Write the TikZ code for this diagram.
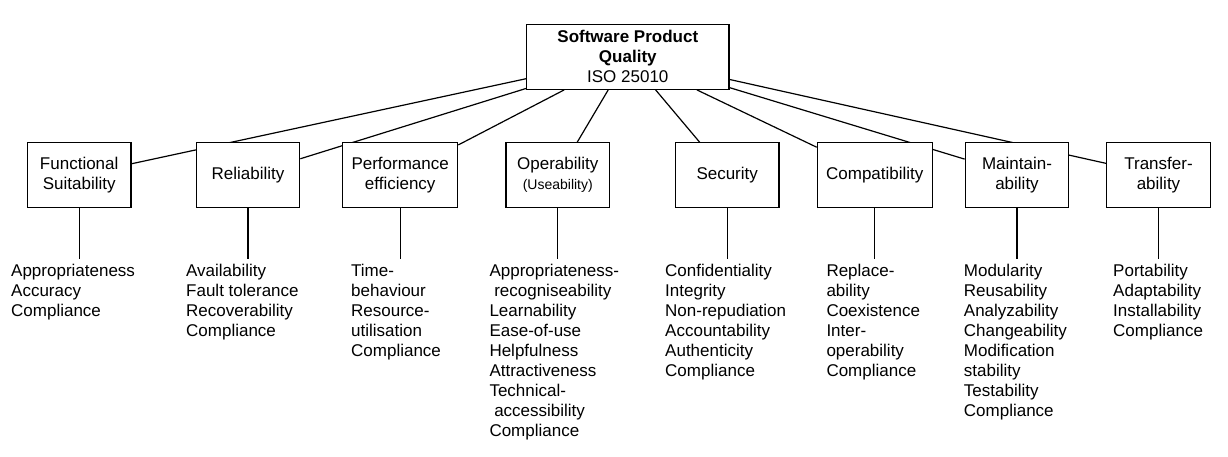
\documentclass[tikz,border=0pt]{standalone}
\usepackage{fontspec}
\setmainfont{Liberation Sans}
\usetikzlibrary{backgrounds}
\tikzset{
	qbox/.style={draw, fill=white, line width=1.2pt, minimum width=103.5pt, minimum height=64.5pt, inner sep=0pt, align=center, font=\fontsize{17}{20}\selectfont},
	wbox/.style={qbox, minimum width=115pt},
	hbox/.style={qbox, minimum width=202.3pt, minimum height=65pt},
	qlist/.style={anchor=north west, inner sep=0pt, align=left, font=\fontsize{17}{20}\selectfont},
	link/.style={line width=1.2pt},
}

\begin{document}
\begin{tikzpicture}[x=1pt,y=-1pt]
	\useasboundingbox (0,0) rectangle (1228,457);

	\node [hbox] (sq) at (627.8,56.8) {\textbf{Software Product}\\\textbf{Quality}\\ISO 25010};

	\node [qbox] (fs) at (79.2,175) {Functional\\Suitability};
	\node [qbox] (rel) at (248,175) {Reliability};
	\node [wbox] (perf) at (400.2,175) {Performance\\efficiency};
	\node [qbox] (op) at (557.8,175) {Operability\\{\fontsize{14}{17}\selectfont (Useability)}};
	\node [qbox] (sec) at (727.2,175) {Security};
	\node [wbox] (comp) at (874.8,175) {Compatibility};
	\node [qbox] (mai) at (1017,175) {Maintain-\\ability};
	\node [qbox] (tra) at (1158.5,175) {Transfer-\\ability};

	\node [qlist] (fsl) at (11,264) {Appropriateness\\Accuracy\\Compliance};
	\node [qlist] (rell) at (186,264) {Availability\\Fault tolerance\\Recoverability\\Compliance};
	\node [qlist] (perfl) at (351,264) {Time-\\behaviour\\Resource-\\utilisation\\Compliance};
	\node [qlist] (opl) at (489.3,264) {Appropriateness-\\\hspace*{0.28em}recogniseability\\Learnability\\Ease-of-use\\Helpfulness\\Attractiveness\\Technical-\\\hspace*{0.28em}accessibility\\Compliance};
	\node [qlist] (secl) at (665,264) {Confidentiality\\Integrity\\Non-repudiation\\Accountability\\Authenticity\\Compliance};
	\node [qlist] (compl) at (826.3,264) {Replace-\\ability\\Coexistence\\Inter-\\operability\\Compliance};
	\node [qlist] (mail) at (963.7,264) {Modularity\\Reusability\\Analyzability\\Changeability\\Modification\\stability\\Testability\\Compliance};
	\node [qlist] (tral) at (1113,264) {Portability\\Adaptability\\Installability\\Compliance};

	\begin{scope}[on background layer]
		\foreach \c in {fs,rel,perf,op,sec,comp,mai,tra}
			\draw [link] (sq) -- (\c);
	\end{scope}

	\draw [link, shorten >=5pt] (fs.south) -- (fs.south |- fsl.north);
	\draw [link, shorten >=5pt] (rel.south) -- (rel.south |- rell.north);
	\draw [link, shorten >=5pt] (perf.south) -- (perf.south |- perfl.north);
	\draw [link, shorten >=5pt] (op.south) -- (op.south |- opl.north);
	\draw [link, shorten >=5pt] (sec.south) -- (sec.south |- secl.north);
	\draw [link, shorten >=5pt] (comp.south) -- (comp.south |- compl.north);
	\draw [link, shorten >=5pt] (mai.south) -- (mai.south |- mail.north);
	\draw [link, shorten >=5pt] (tra.south) -- (tra.south |- tral.north);
\end{tikzpicture}
\end{document}
